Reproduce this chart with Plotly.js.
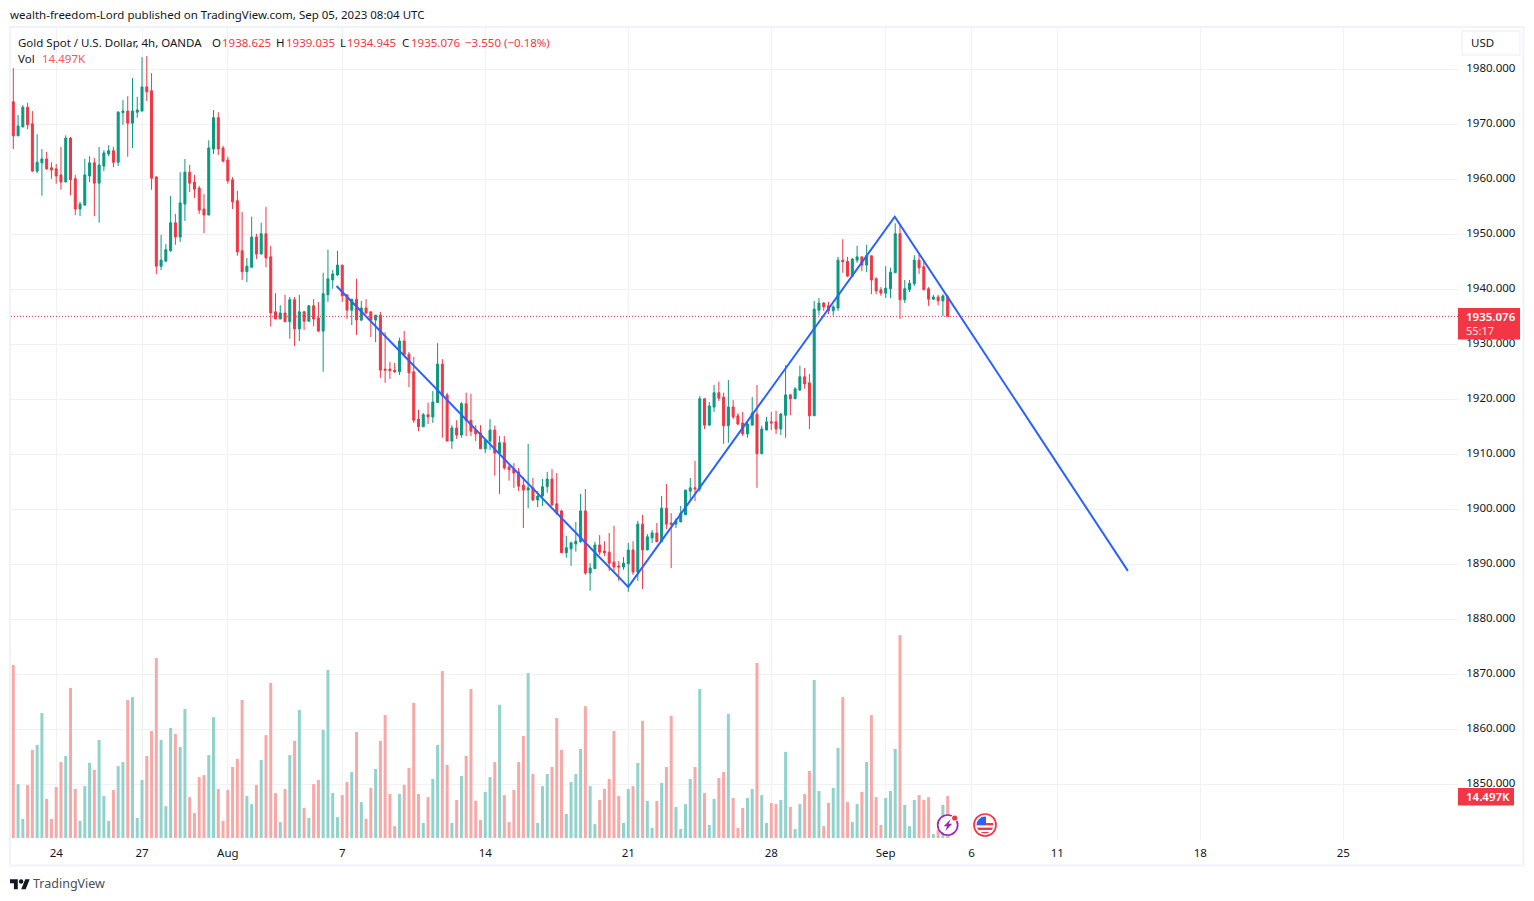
<!DOCTYPE html>
<html><head><meta charset="utf-8">
<script src="https://cdn.plot.ly/plotly-3.0.1.min.js"></script>
<style>html,body{margin:0;padding:0;background:#fff}#chart{width:1534px;height:901px}</style>
</head><body><div id="chart"></div>
<script>
const opens=[1974.1,1967.9,1969.5,1973.1,1970.1,1961.5,1963.0,1963.7,1962.1,1961.9,
1960.8,1959.5,1967.5,1960.1,1954.6,1955.3,1960.6,1963.0,1959.3,1962.4,
1964.6,1965.2,1963.1,1972.1,1972.4,1970.2,1972.2,1972.4,1976.8,1976.1,
1960.4,1944.2,1945.1,1947.0,1952.1,1949.5,1955.5,1961.3,1959.5,1958.4,
1954.6,1953.5,1965.5,1971.2,1965.7,1963.5,1959.9,1956.1,1947.0,1943.2,
1944.0,1949.5,1946.4,1950.1,1945.9,1935.9,1934.6,1935.7,1934.1,1938.1,
1932.8,1935.9,1934.2,1937.0,1934.8,1932.4,1939.0,1941.7,1942.6,1944.4,
1939.0,1936.2,1938.2,1934.4,1936.6,1935.9,1934.4,1935.3,1925.5,1925.5,
1925.3,1925.0,1930.6,1928.2,1925.0,1916.4,1915.0,1917.2,1916.8,1919.4,
1926.4,1920.8,1912.4,1914.8,1913.5,1919.2,1916.2,1914.4,1913.9,1911.0,
1912.4,1914.4,1910.2,1912.1,1907.7,1907.3,1906.8,1904.4,1903.5,1903.9,
1901.7,1902.4,1904.1,1905.5,1901.0,1899.7,1892.1,1892.8,1893.7,1894.1,
1899.7,1888.4,1889.2,1893.5,1892.4,1892.2,1890.4,1889.7,1889.5,1890.1,
1892.6,1888.6,1897.3,1892.6,1894.8,1895.7,1894.1,1900.2,1897.5,1897.3,
1897.7,1899.0,1903.3,1903.9,1903.7,1920.1,1915.3,1918.6,1921.2,1920.4,
1915.2,1918.6,1917.0,1915.7,1913.7,1915.3,1917.3,1910.1,1914.4,1915.9,
1915.9,1914.6,1917.1,1920.8,1920.1,1921.7,1924.1,1923.0,1917.0,1936.2,
1937.5,1937.0,1936.1,1936.6,1945.3,1945.1,1942.4,1945.3,1945.9,1944.4,
1946.1,1941.9,1939.9,1939.3,1940.1,1943.0,1950.1,1938.1,1939.9,1941.0,
1945.3,1944.1,1940.1,1938.2,1938.6,1937.9,1938.625];
const highs=[1980.2,1971.7,1973.5,1973.9,1972.4,1968.2,1965.5,1965.0,1963.1,1962.8,
1965.9,1968.0,1967.7,1960.8,1955.9,1963.7,1964.2,1963.9,1965.9,1965.3,
1966.2,1965.9,1972.4,1974.4,1975.1,1978.4,1975.0,1982.2,1982.4,1979.3,
1960.6,1949.9,1948.2,1957.0,1953.7,1961.3,1963.7,1962.6,1960.8,1958.8,
1957.3,1967.1,1972.6,1972.2,1966.1,1964.1,1960.4,1957.9,1954.1,1945.7,
1953.2,1950.1,1952.1,1955.0,1947.9,1939.3,1937.1,1939.0,1938.6,1938.6,
1939.0,1936.1,1937.1,1938.2,1937.7,1943.0,1947.2,1943.5,1947.0,1944.4,
1939.0,1938.2,1941.9,1937.9,1938.2,1935.9,1935.3,1935.9,1932.2,1926.8,
1926.6,1931.2,1932.4,1928.6,1927.7,1918.1,1917.5,1919.4,1921.5,1930.2,
1927.3,1921.2,1915.3,1916.2,1919.5,1921.2,1921.0,1915.3,1915.3,1912.8,
1916.4,1915.2,1913.3,1913.3,1908.2,1908.4,1907.5,1905.9,1911.9,1905.7,
1903.3,1905.5,1906.8,1907.3,1906.6,1899.9,1895.2,1894.1,1897.7,1902.8,
1903.7,1890.2,1894.1,1895.3,1894.2,1895.7,1897.0,1890.6,1891.3,1893.9,
1894.2,1897.9,1899.0,1895.5,1896.2,1897.5,1902.4,1904.6,1899.3,1898.4,
1900.6,1903.5,1905.7,1908.8,1920.6,1920.1,1919.5,1922.6,1923.2,1921.2,
1923.5,1919.9,1917.5,1917.7,1916.2,1920.4,1922.6,1915.2,1916.8,1917.7,
1917.9,1917.5,1926.2,1921.0,1922.2,1926.1,1925.7,1924.6,1937.9,1938.4,
1937.7,1937.7,1937.1,1945.9,1949.1,1945.9,1945.7,1947.9,1945.9,1948.1,
1946.1,1942.2,1940.4,1944.2,1943.9,1952.0,1951.7,1941.7,1941.7,1946.2,
1946.4,1945.3,1940.4,1939.0,1939.0,1939.1,1939.035];
const lows=[1965.5,1967.9,1969.5,1969.1,1961.3,1961.1,1957.0,1961.7,1960.1,1959.2,
1958.1,1959.5,1957.1,1953.5,1953.3,1955.3,1959.5,1953.3,1952.1,1961.5,
1964.2,1962.2,1962.4,1969.9,1964.1,1965.7,1971.2,1972.4,1974.2,1958.1,
1942.8,1943.5,1945.1,1946.8,1948.1,1948.6,1952.4,1957.7,1956.6,1953.7,
1950.2,1953.5,1964.6,1964.4,1963.1,1959.2,1954.6,1946.1,1941.7,1941.3,
1944.0,1945.5,1946.4,1944.0,1933.2,1934.6,1934.6,1934.1,1931.0,1929.7,
1930.6,1932.6,1934.2,1933.3,1932.2,1925.0,1937.7,1940.1,1942.4,1937.7,
1934.6,1933.5,1931.7,1934.2,1935.5,1931.3,1930.4,1923.9,1923.0,1923.7,
1924.8,1924.4,1927.9,1922.2,1915.7,1914.2,1915.0,1915.5,1915.7,1919.4,
1913.0,1912.4,1911.0,1912.8,1913.0,1913.3,1913.3,1912.4,1911.0,1910.2,
1910.8,1906.1,1902.8,1907.2,1905.2,1903.9,1903.3,1896.6,1900.2,1901.5,
1900.4,1900.6,1903.0,1900.6,1899.0,1892.1,1891.2,1889.7,1892.3,1893.9,
1888.1,1885.2,1889.2,1891.7,1891.5,1888.8,1888.8,1887.0,1889.0,1885.0,
1888.1,1887.0,1885.5,1892.6,1893.9,1894.1,1894.1,1896.4,1889.3,1896.6,
1897.7,1899.0,1901.7,1901.5,1903.2,1914.6,1915.3,1917.7,1919.7,1911.9,
1912.1,1916.4,1915.3,1913.3,1913.0,1915.3,1903.9,1910.1,1914.4,1914.4,
1913.7,1913.5,1913.0,1917.1,1920.1,1921.5,1921.9,1914.6,1917.0,1935.3,
1936.1,1935.5,1935.2,1936.1,1943.0,1942.2,1942.4,1944.8,1943.3,1943.1,
1939.1,1939.1,1938.8,1938.4,1938.4,1943.0,1934.6,1937.5,1939.5,1940.6,
1942.8,1939.9,1937.0,1938.1,1937.1,1935.1,1934.945];
const closes=[1967.9,1969.7,1973.1,1969.9,1961.5,1963.1,1963.7,1961.9,1961.7,1960.6,
1959.5,1967.5,1959.9,1954.6,1955.5,1960.8,1963.0,1959.3,1962.6,1964.8,
1965.2,1963.1,1972.2,1972.4,1970.2,1972.4,1972.6,1976.8,1975.9,1960.2,
1944.2,1945.3,1947.2,1952.1,1949.5,1955.7,1961.3,1959.3,1958.2,1954.4,
1953.5,1965.7,1971.2,1965.5,1963.3,1959.7,1955.9,1946.8,1943.2,1944.2,
1949.5,1946.4,1950.1,1945.7,1935.7,1934.6,1935.7,1934.1,1938.1,1932.8,
1935.9,1934.2,1937.0,1934.6,1932.4,1939.2,1941.9,1942.8,1944.4,1938.8,
1936.2,1938.2,1934.4,1936.6,1935.7,1934.4,1935.3,1925.3,1925.3,1925.2,
1925.0,1930.6,1928.1,1924.8,1916.2,1915.0,1917.2,1916.8,1919.5,1926.4,
1920.6,1912.4,1914.8,1913.5,1919.2,1916.1,1914.2,1913.7,1911.0,1912.6,
1914.4,1910.2,1912.1,1907.5,1907.2,1906.6,1904.2,1903.5,1903.9,1901.7,
1902.4,1904.1,1905.5,1900.8,1899.3,1892.1,1893.0,1893.9,1894.2,1899.7,
1888.4,1889.3,1893.5,1892.2,1892.1,1890.2,1889.5,1889.5,1890.2,1892.6,
1888.6,1897.3,1892.6,1895.0,1895.7,1894.1,1900.2,1897.3,1897.3,1897.9,
1899.3,1903.5,1903.9,1903.7,1920.1,1915.3,1918.8,1921.2,1920.2,1915.2,
1918.6,1916.8,1915.5,1913.7,1915.5,1917.5,1910.1,1914.6,1915.9,1915.7,
1914.6,1917.3,1920.8,1920.1,1921.9,1924.1,1922.8,1917.0,1936.4,1937.5,
1936.8,1936.1,1936.8,1945.3,1945.0,1942.4,1945.5,1945.9,1944.4,1946.1,
1941.7,1939.7,1939.3,1940.2,1943.1,1950.1,1938.1,1940.1,1941.1,1945.3,
1943.9,1939.9,1938.2,1938.6,1937.9,1938.8,1935.076];
const volumesK=[59.7,18.6,6.6,18.3,30.4,32.1,43.1,13.5,6.6,17.6,
26.2,28.3,51.8,16.9,5.9,17.9,25.9,23.5,33.8,14.5,
5.9,16.6,24.8,26.2,47.6,48.6,6.9,20.0,28.3,36.9,
62.1,33.8,11.0,38.0,35.9,31.4,44.5,14.1,8.6,21.0,
21.7,28.6,41.7,16.9,5.9,16.6,24.5,27.3,47.6,14.5,
11.7,18.3,26.9,35.5,53.5,15.5,5.5,16.9,28.6,33.5,
44.2,10.4,6.9,18.6,20.0,37.3,58.0,15.5,7.2,14.8,
19.3,22.8,36.6,12.4,6.6,17.3,23.8,33.5,42.4,15.2,
4.1,15.2,18.3,24.2,46.6,15.2,5.2,14.1,20.4,32.1,
57.6,25.2,5.2,13.1,21.4,28.3,51.4,12.8,6.2,15.9,
21.0,26.2,45.9,14.8,5.5,16.6,26.2,35.2,56.9,22.1,
5.2,17.9,22.1,24.5,41.4,30.4,8.3,19.3,22.1,30.7,
45.5,17.9,4.8,13.1,16.9,20.4,36.9,14.5,5.2,16.9,
17.9,25.9,40.4,12.8,3.5,12.8,19.0,24.5,42.1,10.7,
3.1,11.7,20.4,24.5,51.4,15.5,4.5,13.5,20.7,22.8,
42.8,13.8,3.5,10.4,13.8,16.9,60.4,14.8,5.2,12.1,
11.7,13.1,29.7,10.7,3.1,11.7,15.2,23.1,54.5,16.2,
4.1,12.1,17.3,31.1,48.6,12.4,5.5,11.7,15.9,26.2,
42.4,14.1,4.5,13.8,16.2,30.7,70.0,11.4,4.1,13.1,
14.8,13.1,14.1,1.4,2.8,11.4,14.497];
const barIndex=opens.map((_,i)=>i);
const dateTickIndex=[9,27,45,69,99,129,159,183,201,219,249,279];
const dateTickLabels=['24','27','Aug','7','14','21','28','Sep','6','11','18','25'];
const priceTicks=[1850,1860,1870,1880,1890,1900,1910,1920,1930,1940,1950,1960,1970,1980];
const drawingIndex=[67.8,129,184.9,233.8];
const drawingPrice=[1940.6,1885.9,1953.2,1888.8];
const lastPrice=1935.076;

const UP='#089981',DOWN='#F23645',UPV='#92d2cc',DOWNV='#f7a9a7',GRID='#f1f1f3',FRAME='#f0f3fa',TXT='#131722';
const FONT='"Noto Sans", sans-serif';
const L=11,R=1458,T=28,B=840;
const px=x=>(x-L)/(R-L), py=y=>(B-y)/(B-T);

function note(text,x,y,size,color,anchor,weight){
  return {text:text,xref:'paper',yref:'paper',x:px(x),y:py(y),xanchor:anchor||'left',yanchor:'middle',
    showarrow:false,borderpad:0,font:{family:FONT,size:size||11.5,color:color||TXT,weight:weight||400}};
}
function box(x0,y0,x1,y1,fill,line,w){
  return {type:'rect',xref:'paper',yref:'paper',x0:px(x0),x1:px(x1),y0:py(y0),y1:py(y1),
    fillcolor:fill||'rgba(0,0,0,0)',line:{color:line||'rgba(0,0,0,0)',width:w||0},layer:'above'};
}
function svgImg(svg,x,y,w,h){
  return {source:'data:image/svg+xml;utf8,'+encodeURIComponent(svg),xref:'paper',yref:'paper',
    x:px(x),y:py(y),sizex:w/(R-L),sizey:h/(B-T),xanchor:'left',yanchor:'top',sizing:'stretch',layer:'above'};
}
const logoSvg='<svg xmlns="http://www.w3.org/2000/svg" viewBox="0 0 36 22"><path fill="#131722" d="M14 22H7V11H0V4h14v18zM28 22h-8l7.5-18h8L28 22z"/><circle fill="#131722" cx="20" cy="8" r="4"/></svg>';
const boltSvg='<svg xmlns="http://www.w3.org/2000/svg" viewBox="0 0 26 26"><circle cx="12" cy="14" r="10" fill="#fff" stroke="#9c27b0" stroke-width="1.7"/><path fill="#9c27b0" d="M15 8l-7 7.2h3.4l-1.9 5 7-7.4h-3.4z"/><circle cx="19" cy="7" r="3.6" fill="#fff"/><circle cx="19" cy="7" r="2.6" fill="#F23645"/></svg>';
const flagSvg='<svg xmlns="http://www.w3.org/2000/svg" viewBox="0 0 24 24"><circle cx="12" cy="12" r="11" fill="#fff" stroke="#F23645" stroke-width="1.7"/><clipPath id="c"><circle cx="12" cy="12" r="8.4"/></clipPath><g clip-path="url(#c)"><rect x="0" y="3" width="24" height="18" fill="#fff"/><rect x="0" y="10" width="24" height="2.4" fill="#F23645"/><rect x="0" y="14.6" width="24" height="2.4" fill="#F23645"/><rect x="0" y="19" width="24" height="3" fill="#F23645"/><rect x="0" y="3" width="13" height="8.8" fill="#2962ff"/></g></svg>';

const traces=[
 {type:'bar',x:barIndex,y:volumesK,yaxis:'y2',width:0.63,hoverinfo:'skip',showlegend:false,
  marker:{color:closes.map((c,i)=>c>=opens[i]?UPV:DOWNV),line:{width:0}}},
 {type:'candlestick',x:barIndex,open:opens,high:highs,low:lows,close:closes,whiskerwidth:0,hoverinfo:'skip',showlegend:false,
  increasing:{line:{color:UP,width:1},fillcolor:UP},decreasing:{line:{color:DOWN,width:1},fillcolor:DOWN}},
 {type:'scatter',mode:'lines',x:drawingIndex,y:drawingPrice,line:{color:'#2962ff',width:2},hoverinfo:'skip',showlegend:false}
];
const layout={
 width:1534,height:901,autosize:false,margin:{l:L,r:1534-R,t:T,b:901-B,pad:0},
 paper_bgcolor:'#fff',plot_bgcolor:'#fff',showlegend:false,boxgap:0.4,dragmode:false,
 font:{family:FONT,size:11.5,color:TXT},
 xaxis:{range:[-0.483,303.05],tickmode:'array',tickvals:dateTickIndex,ticktext:dateTickLabels,
  showgrid:true,gridcolor:GRID,gridwidth:1,zeroline:false,showline:false,ticks:'outside',ticklen:2,tickcolor:'rgba(0,0,0,0)',
  tickfont:{family:FONT,size:11.5,color:TXT},rangeslider:{visible:false},fixedrange:true},
 yaxis:{range:[1839.87,1987.51],side:'right',tickmode:'array',tickvals:priceTicks,tickformat:'.3f',
  showgrid:true,gridcolor:GRID,gridwidth:1,zeroline:false,showline:false,ticks:'outside',ticklen:5,tickcolor:'rgba(0,0,0,0)',
  ticklabelshift:-1,tickfont:{family:FONT,size:11.5,color:TXT},fixedrange:true},
 yaxis2:{overlaying:'y',side:'left',range:[-0.69,279.45],visible:false,showgrid:false,zeroline:false,fixedrange:true},
 shapes:[
  box(10,27,1523.5,865.5,null,FRAME,2),
  {type:'line',xref:'paper',x0:0,x1:1,yref:'y',y0:lastPrice,y1:lastPrice,line:{color:DOWN,width:1,dash:'1px,2px'},layer:'above'},
  box(1462,31,1520,55,'#fff',FRAME,1.5),
  box(1458,308,1520,339.5,DOWN),
  box(1458,788,1514,805.5,DOWN)
 ],
 images:[svgImg(logoSvg,10,877,20,12.5),svgImg(boltSvg,935.7,811,26,26),svgImg(flagSvg,973,813,24,24)],
 annotations:[
  note('wealth-freedom-Lord published on TradingView.com, Sep 05, 2023 08:04 UTC',9,14),
  note('Gold Spot / U.S. Dollar, 4h, OANDA',17,42),
  note('O',211,42),note('1938.625',220.5,42,11.5,DOWN),
  note('H',275,42),note('1939.035',284.5,42,11.5,DOWN),
  note('L',339,42),note('1934.945',346,42,11.5,DOWN),
  note('C',401,42),note('1935.076',410,42,11.5,DOWN),
  note('−3.550 (−0.18%)',464,42,11.5,DOWN),
  note('Vol',17,58),note('14.497K',41,58,11.5,'#f7525f'),
  note('USD',1470,43),
  note('1935.076',1465,316,11.5,'#fff','left',600),
  note('55:17',1465,331,11,'#fde3e5'),
  note('14.497K',1465,796.5,11.5,'#fff','left',600),
  note('TradingView',32,883,12.5,'#4a4f5c')
 ]
};
Plotly.newPlot('chart',traces,layout,{staticPlot:true,displayModeBar:false});
</script></body></html>
